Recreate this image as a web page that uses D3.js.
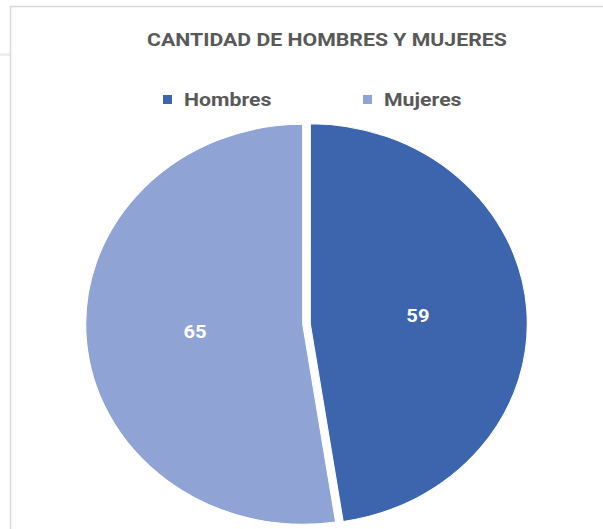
<!DOCTYPE html>
<html>
<head>
<meta charset="utf-8">
<script src="https://cdn.jsdelivr.net/npm/d3@7"></script>
<style>
    body { margin: 0; background: #fff; }
    svg { display: block; font-family: Roboto, "Liberation Sans", sans-serif; }
</style>
</head>
<body>
<div id="chart"></div>
<script>
// Data
const categories = ["Hombres", "Mujeres"];
const values = [59, 65];
const colors = ["#3d65ae", "#8fa3d4"];
const title = "CANTIDAD DE HOMBRES Y MUJERES";

const width = 603, height = 529;
const sx = 1.085; // original picture is stretched a bit horizontally
const tx = 1.12;  // text stretch

const svg = d3.select("#chart")
    .append("svg")
        .attr("width", width)
        .attr("height", height);

// Frame lines
svg.append("rect")
    .attr("x", 0).attr("y", 53).attr("width", 10).attr("height", 3)
    .attr("fill", "#eeeeee");
svg.append("path")
    .attr("d", `M10.5,${height} V6.5 H${width}`)
    .attr("fill", "none")
    .attr("stroke", "#d9d9d9")
    .attr("stroke-width", 1.5);

// Title
svg.append("text")
    .attr("transform", `translate(327,46) scale(${tx},1)`)
    .attr("text-anchor", "middle")
    .attr("font-size", 19)
    .attr("font-weight", "bold")
    .attr("fill", "#595959")
    .text(title);

// Legend
const legendX = [163, 363];
const legend = svg.append("g")
    .selectAll("g")
    .data(categories)
    .enter()
    .append("g")
        .attr("transform", (d, i) => `translate(${legendX[i]},99)`);
legend.append("rect")
    .attr("x", 0).attr("y", -4)
    .attr("width", 9).attr("height", 9)
    .attr("fill", (d, i) => colors[i]);
legend.append("text")
    .attr("transform", `translate(21,7) scale(${tx},1)`)
    .attr("font-size", 19)
    .attr("font-weight", "bold")
    .attr("fill", "#595959")
    .text(d => d);

// Pie
const radius = 200;
const explode = 3.5;
const cx = 306.5, cy = 324;

const pie = d3.pie().sort(null)(values);
const arc = d3.arc().innerRadius(0).outerRadius(radius);
const labelArc = d3.arc().innerRadius(0).outerRadius(radius * 1.03);

const plot = svg.append("g")
    .attr("transform", `translate(${cx},${cy}) scale(${sx},1)`);

const slices = plot.selectAll("g")
    .data(pie)
    .enter()
    .append("g")
        .attr("transform", d => {
            const a = (d.startAngle + d.endAngle) / 2;
            return `translate(${Math.sin(a) * explode},${-Math.cos(a) * explode})`;
        });

slices.append("path")
    .attr("d", arc)
    .attr("fill", (d, i) => colors[i])
    .attr("stroke", "#fff")
    .attr("stroke-width", 1);

// Value labels (drawn unscaled)
svg.append("g")
    .selectAll("text")
    .data(pie)
    .enter()
    .append("text")
        .attr("transform", d => `translate(${cx + labelArc.centroid(d)[0] * sx},${cy + labelArc.centroid(d)[1] + 6}) scale(${tx},1)`)
        .attr("text-anchor", "middle")
        .attr("font-size", 18)
        .attr("font-weight", "bold")
        .attr("fill", "#fff")
        .text(d => d.value);
</script>
</body>
</html>
